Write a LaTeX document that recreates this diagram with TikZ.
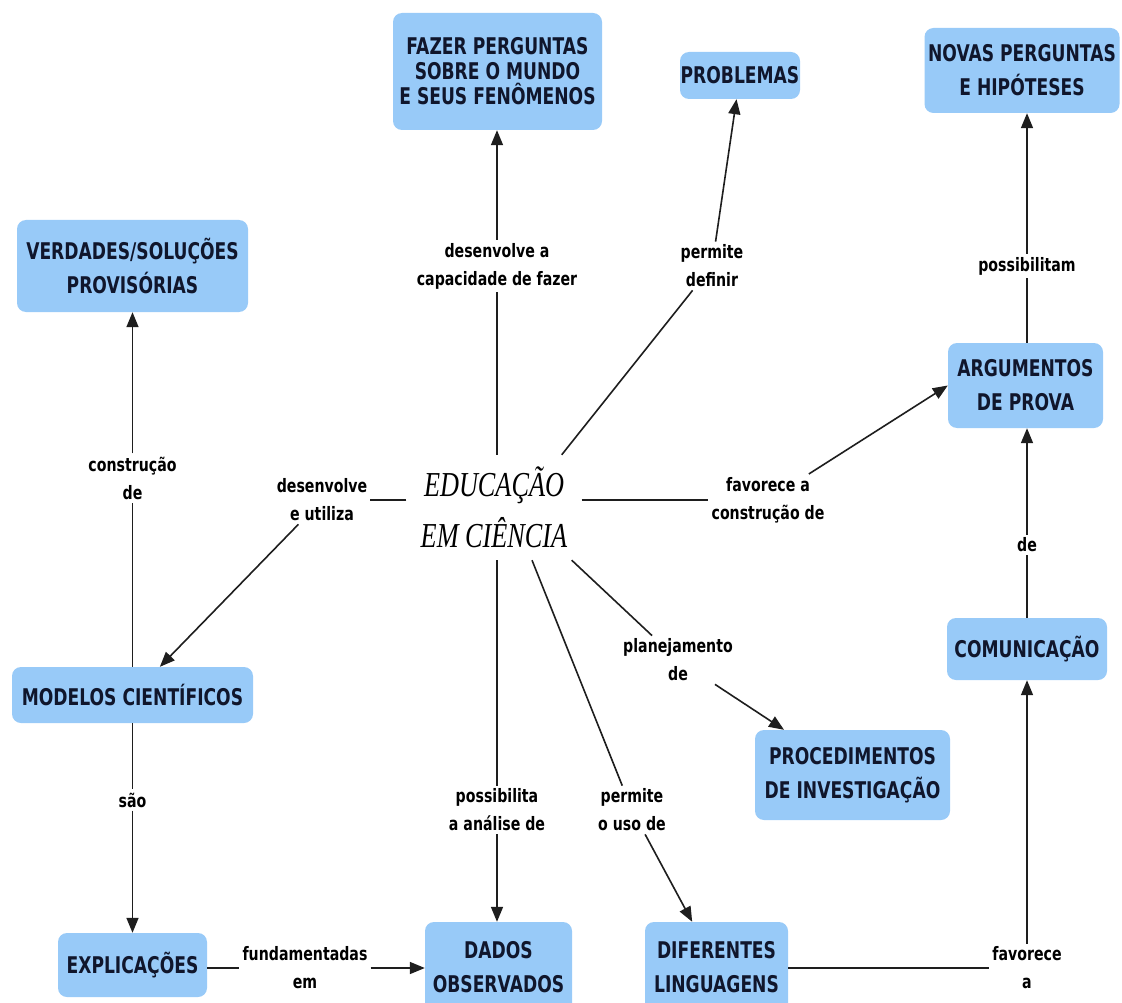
\documentclass[tikz,border=0pt]{standalone}
\usepackage{fontspec}
\usetikzlibrary{arrows.meta}
\newfontfamily\boxfont{DejaVu Sans}[FakeStretch=0.745]
\newfontfamily\linkfont{DejaVu Sans}[FakeStretch=0.765]
\newfontfamily\edufont{Liberation Serif}[FakeStretch=0.75]
\definecolor{boxblue}{RGB}{152,202,248}
\definecolor{boxtext}{RGB}{16,22,44}
\definecolor{linecol}{RGB}{30,30,30}
\begin{document}
\begin{tikzpicture}[x=1pt,y=-1pt,
  concept/.style={fill=boxblue, rounded corners=9pt, align=center, text=boxtext, inner sep=0pt,
    font={\boxfont\bfseries\fontsize{23}{34}\selectfont}},
  link/.style={align=center, text=black, inner sep=3pt,
    font={\linkfont\bfseries\fontsize{18.5}{28}\selectfont}},
  con/.style={line width=1.6pt, draw=linecol},
  arr/.style={con, -{Triangle[length=15pt,width=12pt]}},
]
\useasboundingbox (0,0) rectangle (1122,1003);
\fill[white] (0,0) rectangle (1122,1003);

% concepts
\node[concept, minimum width=209pt, minimum height=117pt,
  font={\boxfont\bfseries\fontsize{23}{25}\selectfont}] (fazer) at (497.5,71.5) {FAZER PERGUNTAS\\SOBRE O MUNDO\\E SEUS FENÔMENOS};
\node[concept, minimum width=120pt, minimum height=47pt] (prob) at (740,75.5) {PROBLEMAS};
\node[concept, minimum width=195pt, minimum height=85pt] (novas) at (1022,70.5) {NOVAS PERGUNTAS\\E HIPÓTESES};
\node[concept, minimum width=231pt, minimum height=92pt] (verd) at (132.5,266) {VERDADES/SOLUÇÕES\\PROVISÓRIAS};
\node[concept, minimum width=155pt, minimum height=85pt] (arg) at (1025.5,385.5) {ARGUMENTOS\\DE PROVA};
\node[concept, minimum width=160pt, minimum height=62pt] (com) at (1027,649) {COMUNICAÇÃO};
\node[concept, minimum width=241pt, minimum height=56pt] (mod) at (132.5,695) {MODELOS CIENTÍFICOS};
\node[concept, minimum width=195pt, minimum height=90pt] (proc) at (852.5,775) {PROCEDIMENTOS\\DE INVESTIGAÇÃO};
\node[concept, minimum width=149pt, minimum height=64pt] (expl) at (132.5,965) {EXPLICAÇÕES};
\node[concept, minimum width=147pt, minimum height=90pt] (dados) at (498.5,967) {DADOS\\OBSERVADOS};
\node[concept, minimum width=143pt, minimum height=90pt] (dif) at (716.5,967) {DIFERENTES\\LINGUAGENS};

% central concept
\node[font={\edufont\itshape\fontsize{35}{51}\selectfont}, minimum width=175pt, minimum height=105pt,
  inner sep=0pt, align=center] (edu) at (494,507.5) {EDUCAÇÃO\\EM CIÊNCIA};

% linking phrases
\node[link] (l1) at (497,266) {desenvolve a\\capacidade de fazer};
\node[link] (l2) at (712,266) {permite\\definir};
\node[link] (l3) at (1027,266) {possibilitam};
\node[link] (l4) at (132.5,478) {construção\\de};
\node[link] (l5) at (322,500) {desenvolve\\e utiliza};
\node[link] (l6) at (768,500) {favorece a\\construção de};
\node[link] (l7) at (1027,545) {de};
\node[link] (l8) at (678,660) {planejamento\\de};
\node[link] (l9) at (497,810) {possibilita\\a análise de};
\node[link] (l10) at (632,810) {permite\\o uso de};
\node[link] (l11) at (132.5,800) {são};
\node[link] (l12) at (305,968) {fundamentadas\\em};
\node[link] (l13) at (1027,968) {favorece\\a};

% from concepts to linking phrases
\draw[con] (l1 |- edu.north) -- (l1);
\draw[con] ([xshift=-20pt]edu.north east) -- (l2);
\draw[con] (l3 |- arg.north) -- (l3);
\draw[con] (mod) -- (l4);
\draw[con] (edu.west |- l5) -- (l5);
\draw[con] (edu.east |- l6) -- (l6);
\draw[con] (l7 |- com.north) -- (l7);
\draw[con] ([xshift=-10pt]edu.south east) -- (l8);
\draw[con] (l9 |- edu.south) -- (l9);
\draw[con] ([xshift=38pt]edu.south) -- (l10);
\draw[con] (mod) -- (l11);
\draw[con] (expl.east |- l12) -- (l12);
\draw[con] (dif.east |- l13) -- (l13);

% from linking phrases to concepts
\draw[arr] (l1) -- (l1 |- fazer.south);
\draw[arr] (l2) -- (prob);
\draw[arr] (l3) -- (l3 |- novas.south);
\draw[arr] (l4) -- (verd);
\draw[arr] (l5) -- (mod);
\draw[arr] (l6) -- (arg.west);
\draw[arr] (l7) -- (l7 |- arg.south);
\draw[arr] (l8) -- (proc);
\draw[arr] (l9) -- (l9 |- dados.north);
\draw[arr] (l10) -- (dif);
\draw[arr] (l11) -- (expl);
\draw[arr] (l12.east) -- (l12.east -| dados.west);
\draw[arr] (l13) -- (l13 |- com.south);
\end{tikzpicture}
\end{document}
